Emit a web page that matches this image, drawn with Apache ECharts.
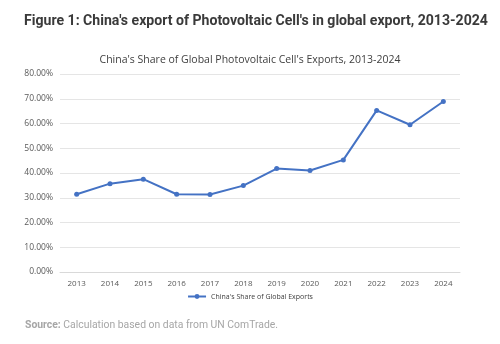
<!DOCTYPE html>
<html>
<head>
<meta charset="utf-8">
<script src="https://cdn.jsdelivr.net/npm/echarts@6/dist/echarts.min.js"></script>
<style>
  html, body { margin: 0; padding: 0; background: #fff; }
  #chart { width: 500px; height: 344px; }
</style>
</head>
<body>
<div id="chart"></div>
<script>
// years on the x axis
const years = ['2013', '2014', '2015', '2016', '2017', '2018', '2019', '2020', '2021', '2022', '2023', '2024']
// China's share of global photovoltaic cell exports (%)
const chinaShare = [31.4, 35.7, 37.5, 31.4, 31.3, 34.9, 41.8, 41.0, 45.3, 65.3, 59.5, 68.9]
// y axis ticks
const yMin = 0
const yMax = 80
const yStep = 10

const chart = echarts.init(document.getElementById('chart'))

const option = {
  animation: false,
  backgroundColor: '#fff',
  title: [
    {
      text: "Figure 1: China's export of Photovoltaic Cell's in global export, 2013-2024",
      left: 24,
      top: 14,
      padding: 0,
      textStyle: { fontFamily: 'Roboto', fontWeight: 'bold', fontSize: 14.1, color: '#3a3a3a' }
    },
    {
      text: "China's Share of Global Photovoltaic Cell's Exports, 2013-2024",
      left: 'center',
      top: 50,
      textStyle: { fontFamily: 'Open Sans', fontWeight: 'normal', fontSize: 10.5, color: '#404040' }
    }
  ],
  legend: {
    bottom: 39,
    left: 'center',
    itemWidth: 18,
    itemHeight: 6,
    itemGap: 4,
    textStyle: { fontFamily: 'Open Sans', fontSize: 7, color: '#404040' },
    data: ["China's Share of Global Exports"]
  },
  grid: { left: 60, right: 40, top: 74, bottom: 72 },
  xAxis: {
    type: 'category',
    data: years,
    axisLine: { lineStyle: { color: '#d9d9d9' } },
    axisTick: { show: false },
    axisLabel: { fontFamily: 'Open Sans', fontSize: 8, color: '#595959', margin: 8 }
  },
  yAxis: {
    type: 'value',
    min: yMin,
    max: yMax,
    interval: yStep,
    axisLine: { show: false },
    axisTick: { show: false },
    splitLine: { lineStyle: { color: '#e5e5e5' } },
    axisLabel: {
      fontFamily: 'Open Sans', fontSize: 8.5, color: '#595959', margin: 7,
      formatter: v => v.toFixed(2) + '%'
    }
  },
  series: [
    {
      name: "China's Share of Global Exports",
      type: 'line',
      data: chinaShare,
      symbol: 'circle',
      symbolSize: 5,
      lineStyle: { color: '#4472c4', width: 2 },
      itemStyle: { color: '#4472c4' }
    }
  ],
  graphic: [
    {
      type: 'text',
      left: 25,
      top: 320,
      style: {
        text: '{b|Source:} Calculation based on data from UN ComTrade.',
        rich: {
          b: { fontFamily: 'Roboto', fontWeight: 'bold', fontSize: 10.4, fill: '#a6a6a6' }
        },
        fontFamily: 'Roboto', fontSize: 10.4, fill: '#a6a6a6'
      }
    }
  ]
}

chart.setOption(option)
</script>
</body>
</html>
